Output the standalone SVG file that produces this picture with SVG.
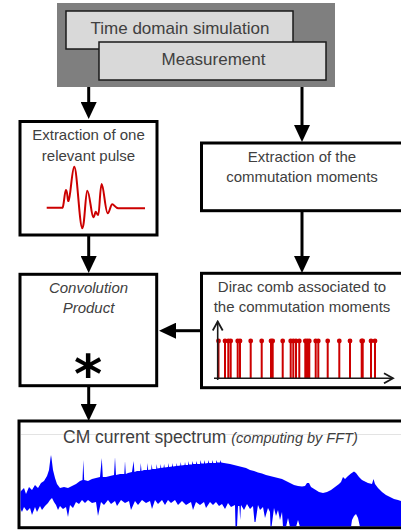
<svg xmlns="http://www.w3.org/2000/svg" width="401" height="531" viewBox="0 0 401 531">
<style>
.t{font-family:"Liberation Sans",Arial,sans-serif;fill:#404040;}
.box{fill:#ffffff;stroke:#000000;stroke-width:3;}
.src{fill:#d9d9d9;stroke:#1a1a1a;stroke-width:1.5;}
.flow{fill:none;stroke:#000000;stroke-width:3;marker-end:url(#ah);}
.ax{fill:none;stroke:#1a1a1a;stroke-width:1.6;marker-end:url(#ch);}
.sp{stroke:#cc0000;stroke-width:2;}
</style>
<defs>
<marker id="ah" markerUnits="userSpaceOnUse" markerWidth="17" markerHeight="16" refX="0" refY="8" orient="auto" viewBox="0 0 17 16">
<path d="M0,0 L17,8 L0,16 Z" fill="#000000"/>
</marker>
<marker id="ch" markerUnits="userSpaceOnUse" markerWidth="12" markerHeight="12" refX="10" refY="6" orient="auto" viewBox="0 0 12 12">
<path d="M1,1 L10,6 L1,11" fill="none" stroke="#1a1a1a" stroke-width="1.8"/>
</marker>
<clipPath id="specclip"><rect x="20.5" y="422.5" width="381" height="103.7"/></clipPath>
</defs>

<g id="source">
<rect x="57" y="3" width="278" height="84" fill="#7f7f7f"/>
<rect class="src" x="66" y="11" width="227" height="38"/>
<text class="t" x="180" y="34" font-size="17" text-anchor="middle">Time domain simulation</text>
<rect class="src" x="99" y="42" width="227" height="38"/>
<text class="t" x="213.5" y="65" font-size="17" text-anchor="middle">Measurement</text>
</g>

<g id="pulse">
<rect class="box" x="20" y="121.5" width="137" height="113.5"/>
<text class="t" x="88.5" y="140" font-size="15" text-anchor="middle">Extraction of one</text>
<text class="t" x="88.5" y="160.5" font-size="15" text-anchor="middle">relevant pulse</text>
<path d="M46.7,207.7 L62.5,207.7 C64,206 64.5,191 66,190 C67.5,190 67.5,202 68.5,201 C70.5,199 72,167 74.3,166.7 C77,167 79.5,228 82.3,228.3 C84.5,228.5 85.5,191 87.3,190.7 C89.5,190.5 91.5,217 93.3,217.3 C94.5,217.5 95,211.7 95.7,211.7 C96.5,211.7 97,215 98.3,215 C99.5,215 100,184 101.7,184 C103.5,184 105.5,213.3 107.7,213.3 C109.5,213.3 110.5,204.3 112.3,204.3 C114,204.3 115.5,208.3 118.3,208.3 L145,208.3" fill="none" stroke="#cc0000" stroke-width="2"/>
</g>

<g id="commutation">
<rect class="box" x="201.5" y="143" width="212" height="67.7"/>
<text class="t" x="302" y="162" font-size="15" text-anchor="middle">Extraction of the</text>
<text class="t" x="302" y="182" font-size="15" text-anchor="middle">commutation moments</text>
</g>

<g id="convolution">
<rect class="box" x="20" y="274.3" width="136.7" height="111.4"/>
<text class="t" x="88.5" y="293" font-size="15" font-style="italic" text-anchor="middle">Convolution</text>
<text class="t" x="88.5" y="313" font-size="15" font-style="italic" text-anchor="middle">Product</text>
<text x="88" y="393" font-family="DejaVu Sans,sans-serif" font-weight="bold" font-size="54" fill="#000000" text-anchor="middle">*</text>
</g>

<g id="dirac">
<rect class="box" x="201.5" y="273.3" width="212" height="114.4"/>
<text class="t" x="302" y="292" font-size="15" text-anchor="middle">Dirac comb associated to</text>
<text class="t" x="302" y="312" font-size="15" text-anchor="middle">the commutation moments</text>
<g class="sp">
<path d="M225,378 V341 M228.3,378 V341 M230.7,378 V341 M237.7,378 V341 M240,378 V341 M250.7,378 V341 M261.7,378 V341 M271,378 V341 M272.7,378 V341 M282.7,378 V341 M290.7,378 V341 M293.3,378 V341 M296,378 V341 M299.3,378 V341 M305.3,378 V341 M307.3,378 V341 M309.3,378 V341 M315.7,378 V341 M318.3,378 V341 M327.7,378 V341 M339.3,378 V341 M350,378 V341 M361.7,378 V341 M362.7,378 V341 M371,378 V341 M375,378 V341 M218.5,378 V341"/>
</g>
<g fill="#cc0000">
<circle cx="218.5" cy="341" r="2.4"/><circle cx="225" cy="341" r="2.4"/><circle cx="228.3" cy="341" r="2.4"/><circle cx="230.7" cy="341" r="2.4"/><circle cx="237.7" cy="341" r="2.4"/><circle cx="240" cy="341" r="2.4"/><circle cx="250.7" cy="341" r="2.4"/><circle cx="261.7" cy="341" r="2.4"/><circle cx="271" cy="341" r="2.4"/><circle cx="272.7" cy="341" r="2.4"/><circle cx="282.7" cy="341" r="2.4"/><circle cx="290.7" cy="341" r="2.4"/><circle cx="293.3" cy="341" r="2.4"/><circle cx="296" cy="341" r="2.4"/><circle cx="299.3" cy="341" r="2.4"/><circle cx="305.3" cy="341" r="2.4"/><circle cx="307.3" cy="341" r="2.4"/><circle cx="309.3" cy="341" r="2.4"/><circle cx="315.7" cy="341" r="2.4"/><circle cx="318.3" cy="341" r="2.4"/><circle cx="327.7" cy="341" r="2.4"/><circle cx="339.3" cy="341" r="2.4"/><circle cx="350" cy="341" r="2.4"/><circle cx="361.7" cy="341" r="2.4"/><circle cx="362.7" cy="341" r="2.4"/><circle cx="371" cy="341" r="2.4"/><circle cx="375" cy="341" r="2.4"/>
</g>
<path class="ax" d="M217.7,380 V321.5"/>
<path class="ax" d="M214,378.3 H393"/>
</g>

<g id="spectrum">
<rect class="box" x="19" y="421" width="400" height="106.7"/>
<line x1="21" y1="434.5" x2="401" y2="434.5" stroke="#e3e3e3" stroke-width="1"/>
<text class="t" x="63" y="443"><tspan font-size="17.5">CM current spectrum </tspan><tspan font-size="14.5" font-style="italic">(computing by FFT)</tspan></text>
<g clip-path="url(#specclip)">
<path fill="#0000ff" d="M20,492 L24,488 L26,494 L29,487 L32,490 L35,485 L38,488 L41,483 L44,481 L47,476 L49,470 L50.5,458 L51,455 L51.5,458 L53,470 L55,478 L57,484 L60,488 L64,487 L68,488 L72,486 L76,484 L80,481 L82.5,480 L83.3,460 L84.2,480 L88,481 L92,479 L96,478 L100,477 L101.8,458 L102.8,477 L106,477 L110,476 L114,475 L115,457 L116,475 L120,474 L124.3,474 L125,461 L125.8,474 L128,473 L132,472 L133.6,461 L134.4,472 L137,471 L140.2,471 L140.8,463 L141.5,471 L144,470 L147,470 L147.5,463 L148.2,470 L151.2,469.5 L151.7,464 L152.3,469 L156.2,469 L156.7,464 L157.3,468.5 L160.2,468 L160.7,464 L161.3,468 L163.6,467.5 L164.1,464 L164.7,467.5 L168,467 L168.4,463 L169,467 L172,466.5 L172.4,463 L173,466.5 L176.3,466 L176.7,463 L177.3,466 L180.3,465.5 L180.7,462 L181.3,465.5 L184.6,465 L185,462 L185.6,465 L188,465 L188.4,461 L189,464.5 L192,464.5 L192.5,461 L193.2,464 L196,464 L196.6,461 L197.2,464 L200,464 L200.6,460 L201.3,463.5 L204,463.5 L204.6,460 L205.2,463.5 L208,463 L208.6,460 L209.2,463 L212,463 L212.6,460 L213.2,463 L216,463 L216.6,460 L217.2,462.5 L220,462.5 L220.6,460 L221.2,462.5 L224,463 L227,463.5 L230,464 L234,465 L238,466 L242,467 L246,468 L250,470 L254,471 L258,472.5 L262,473.5 L266,475 L270,476 L274,477 L278,478 L282,479 L286,481 L290,483 L294,485 L298,486 L302,486.5 L305,486 L307,483 L309,483 L311,487 L315,489.5 L319,492 L323,493 L327,492 L331,490 L335,487 L339,484 L341,482 L343,477 L345,479 L348,476 L351,473.5 L354,471.5 L356,473 L359,477 L362,480 L368,483 L372,484 L373.5,479 L375,484 L378,488 L382,492 L386,495 L390,497 L394,499 L398,500 L401,501 L402,527 L360,527 L358,518 L356,514 L354,516 L352,520 L351,527 L300,527 L298,520 L296,527 L290,527 L288,518 L286,527 L283,527 L282,512 L280,520 L278,510 L276,516 L274,508 L271.5,527 L270.5,527 L270,512 L268,508 L265,518 L263,507 L260,510 L258,505 L255.5,522 L254.5,522 L253,506 L250,509 L247,504 L244,510 L241,505 L240.2,520 L239.4,506 L238,506 L237,527 L235.5,527 L235,505 L231,507 L228,503 L225,509 L222,504 L219,506 L216,502 L213,505 L210,502 L206,508 L204,502 L200,505 L196,502 L193,510 L191,502 L186,505 L182,501 L178,505 L175,500 L171,503 L168,500 L165,505 L162,500 L158,504 L155,500 L152,509 L150,501 L146,503 L142,500 L138,505 L135,501 L131,510 L129,501 L125,503 L121,500 L117,506 L115,501 L111,504 L108,500 L104,505 L101,502 L98,516 L96,502 L92,503 L88,500 L85,503 L82,500 L79,504 L76,502 L73,508 L70,505 L68,517 L66,507 L63,509 L60,506 L58,510 L56,505 L54,502 L52,498 L50,500 L48,503 L45,506 L42,510 L40,506 L37,512 L35,507 L32,515 L30,508 L27,511 L24,507 L22,512 L20,508 Z"/>
</g>
</g>

<g id="connectors">
<path class="flow" d="M88.7,87 V102"/>
<path class="flow" d="M302,87 V125"/>
<path class="flow" d="M88.7,235 V256"/>
<path class="flow" d="M302,210.7 V256"/>
<path class="flow" d="M201.5,330.7 H176"/>
<path class="flow" d="M88.7,385.7 V404"/>
</g>
</svg>
